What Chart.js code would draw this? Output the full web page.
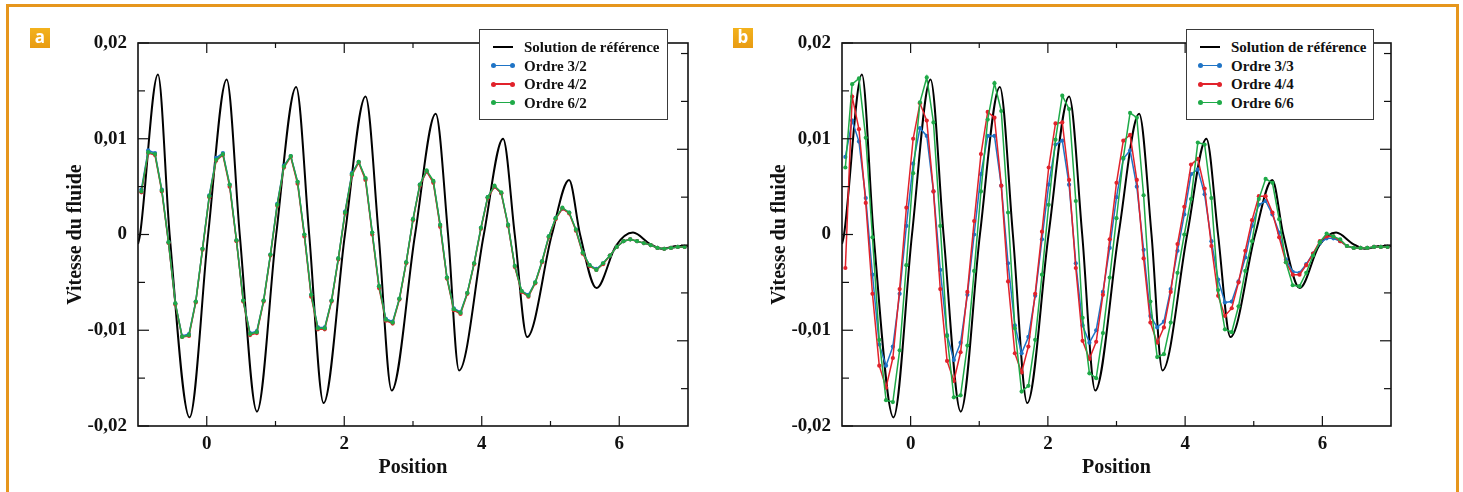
<!DOCTYPE html>
<html>
<head>
<meta charset="utf-8">
<script src="https://cdn.jsdelivr.net/npm/chart.js@4.4.1/dist/chart.umd.min.js"></script>
<style>
  html, body { margin: 0; padding: 0; background: #fff; }
  #page { position: relative; width: 1463px; height: 492px; overflow: hidden; background: #fff; }
  canvas { position: absolute; top: 0; }
  #frame { position: absolute; left: 6px; top: 4px; width: 1447px; height: 540px; border: 3px solid #e6961c; pointer-events: none; }
  .tag { position: absolute; top: 28px; width: 20px; height: 20px; background: linear-gradient(#f3b21c, #e89b12);
         color: #fff; font: bold 17px "Open Sans", sans-serif; text-align: center; line-height: 18px; }
  .legend { position: absolute; top: 29px; height: 91px; background: #fff; border: 1.5px solid #3a3a3a; box-sizing: border-box; }
  .row { position: absolute; left: 0; right: 0; height: 18px; }
  .row .ln { position: absolute; left: 13px; width: 20px; top: 8px; height: 2px; }
  .row .dot { position: absolute; top: 6.5px; width: 5px; height: 5px; border-radius: 50%; }
  .row .tx { position: absolute; left: 44px; top: 0; font: bold 15px "Liberation Serif", serif; line-height: 18px; color: #111; white-space: nowrap; }
</style>
</head>
<body>
<div id="page">
  <canvas id="ca" width="700" height="492" style="left:0"></canvas>
  <canvas id="cb" width="700" height="492" style="left:704px"></canvas>
  <div class="tag" style="left:30px">a</div>
  <div class="tag" style="left:733px">b</div>
  <div class="legend" id="lga" style="left:479px;width:189px"></div>
  <div class="legend" id="lgb" style="left:1186px;width:188px"></div>
  <div id="frame"></div>
</div>
<script>
// ---- axes ----
const yLabelVals = [0.02, 0.01, 0, -0.01, -0.02];
const yMinorVals = [0.015, 0.005, -0.005, -0.015];
const rightMajorVals = [0.0089, -0.0111];
const rightMinorVals = [0.0189, 0.0139, 0.0039, -0.0011, -0.0061, -0.0161];
const xLabelVals = [0, 2, 4, 6];
const xMinorVals = [1, 3, 5];
const topTickVals = [0, 1, 2, 3, 4, 5, 6];

// ---- noms des courbes ----
const refName = "Solution de référence";
const namesA = ["Ordre 3/2", "Ordre 4/2", "Ordre 6/2"];
const namesB = ["Ordre 3/3", "Ordre 4/4", "Ordre 6/6"];
const seriesColors = ["#1f74c6", "#e1222b", "#1faa48"];

// ---- solution de référence ----
const refX = [-1.00, -0.97, -0.71, -0.54, -0.25, 0.02, 0.29, 0.48, 0.73, 1.01, 1.30, 1.49, 1.70, 2.01, 2.31, 2.50,
  2.69, 3.03, 3.33, 3.51, 3.67, 4.03, 4.31, 4.48, 4.66, 5.02, 5.27, 5.43, 5.67, 5.95, 6.20, 6.45, 6.62, 6.85, 7.00];
const refY = [-0.0010, 0.0000, 0.0167, 0.0000, -0.0191, 0.0000, 0.0162, 0.0000, -0.0185, 0.0000, 0.0154, 0.0000,
  -0.0176, 0.0000, 0.0144, 0.0000, -0.0163, 0.0000, 0.0126, 0.0000, -0.0142, 0.0000, 0.0100, 0.0000, -0.0107,
  0.0000, 0.0057, 0.0000, -0.0056, -0.0012, 0.0002, -0.0010, -0.0015, -0.0012, -0.0012];

// ---- positions des cellules ----
const xCells = [-0.951, -0.852, -0.753, -0.654, -0.556, -0.457, -0.358, -0.259, -0.160, -0.062,
  0.037, 0.136, 0.235, 0.333, 0.432, 0.531, 0.630, 0.728, 0.827, 0.926,
  1.025, 1.123, 1.222, 1.321, 1.420, 1.519, 1.617, 1.716, 1.815, 1.914,
  2.012, 2.111, 2.210, 2.309, 2.407, 2.506, 2.605, 2.704, 2.802, 2.901,
  3.000, 3.099, 3.198, 3.296, 3.395, 3.494, 3.593, 3.691, 3.790, 3.889,
  3.988, 4.086, 4.185, 4.284, 4.383, 4.481, 4.580, 4.679, 4.778, 4.877,
  4.975, 5.074, 5.173, 5.272, 5.370, 5.469, 5.568, 5.667, 5.765, 5.864,
  5.963, 6.062, 6.160, 6.259, 6.358, 6.457, 6.556, 6.654, 6.753, 6.852, 6.951];

// ---- figure a ----
const a32 = [0.0047, 0.0088, 0.0085, 0.0047, -0.0008, -0.0072, -0.0106, -0.0104, -0.0070, -0.0015,
  0.0041, 0.0080, 0.0085, 0.0052, -0.0006, -0.0069, -0.0103, -0.0101, -0.0069, -0.0021,
  0.0032, 0.0072, 0.0082, 0.0055, 0.0000, -0.0063, -0.0097, -0.0097, -0.0069, -0.0025,
  0.0024, 0.0064, 0.0076, 0.0058, 0.0002, -0.0054, -0.0088, -0.0091, -0.0067, -0.0029,
  0.0016, 0.0052, 0.0066, 0.0055, 0.0010, -0.0045, -0.0077, -0.0081, -0.0061, -0.0030,
  0.0007, 0.0039, 0.0050, 0.0043, 0.0010, -0.0033, -0.0059, -0.0063, -0.0050, -0.0028,
  -0.0002, 0.0017, 0.0027, 0.0023, 0.0005, -0.0019, -0.0032, -0.0036, -0.0030, -0.0022,
  -0.0013, -0.0007, -0.0005, -0.0007, -0.0009, -0.0011, -0.0014, -0.0015, -0.0014, -0.0013, -0.0013];
const a42 = [0.0044, 0.0085, 0.0083, 0.0045, -0.0009, -0.0073, -0.0107, -0.0106, -0.0071, -0.0016,
  0.0039, 0.0077, 0.0083, 0.0050, -0.0007, -0.0070, -0.0105, -0.0103, -0.0070, -0.0022,
  0.0030, 0.0070, 0.0081, 0.0053, -0.0002, -0.0065, -0.0099, -0.0099, -0.0070, -0.0026,
  0.0022, 0.0062, 0.0075, 0.0057, 0.0000, -0.0056, -0.0090, -0.0093, -0.0068, -0.0030,
  0.0015, 0.0051, 0.0066, 0.0054, 0.0008, -0.0046, -0.0079, -0.0083, -0.0062, -0.0031,
  0.0006, 0.0038, 0.0050, 0.0043, 0.0009, -0.0034, -0.0060, -0.0065, -0.0051, -0.0029,
  -0.0003, 0.0016, 0.0027, 0.0022, 0.0004, -0.0020, -0.0033, -0.0037, -0.0031, -0.0022,
  -0.0013, -0.0007, -0.0005, -0.0007, -0.0009, -0.0011, -0.0014, -0.0015, -0.0014, -0.0013, -0.0013];
const a62 = [0.0045, 0.0086, 0.0084, 0.0046, -0.0008, -0.0072, -0.0107, -0.0105, -0.0070, -0.0015,
  0.0040, 0.0078, 0.0084, 0.0052, -0.0006, -0.0069, -0.0104, -0.0102, -0.0069, -0.0021,
  0.0031, 0.0071, 0.0082, 0.0055, 0.0000, -0.0063, -0.0098, -0.0098, -0.0069, -0.0025,
  0.0023, 0.0063, 0.0076, 0.0059, 0.0002, -0.0054, -0.0089, -0.0092, -0.0067, -0.0029,
  0.0016, 0.0052, 0.0067, 0.0056, 0.0010, -0.0045, -0.0078, -0.0082, -0.0061, -0.0030,
  0.0007, 0.0039, 0.0051, 0.0044, 0.0010, -0.0033, -0.0059, -0.0064, -0.0050, -0.0028,
  -0.0002, 0.0017, 0.0028, 0.0023, 0.0005, -0.0019, -0.0032, -0.0037, -0.0030, -0.0022,
  -0.0013, -0.0007, -0.0005, -0.0007, -0.0009, -0.0011, -0.0014, -0.0015, -0.0014, -0.0013, -0.0013];

// ---- figure b ----
const b33 = [0.0081, 0.0119, 0.0097, 0.0038, -0.0042, -0.0115, -0.0137, -0.0117, -0.0062, 0.0009,
  0.0074, 0.0111, 0.0103, 0.0045, -0.0037, -0.0105, -0.0131, -0.0113, -0.0063, 0.0000,
  0.0063, 0.0103, 0.0103, 0.0051, -0.0030, -0.0095, -0.0124, -0.0107, -0.0064, -0.0005,
  0.0052, 0.0094, 0.0098, 0.0052, -0.0030, -0.0095, -0.0113, -0.0100, -0.0060, -0.0014,
  0.0039, 0.0079, 0.0088, 0.0050, -0.0016, -0.0085, -0.0097, -0.0091, -0.0057, -0.0017,
  0.0021, 0.0063, 0.0068, 0.0042, -0.0007, -0.0047, -0.0071, -0.0070, -0.0049, -0.0024,
  0.0009, 0.0031, 0.0035, 0.0021, 0.0002, -0.0026, -0.0039, -0.0040, -0.0031, -0.0020,
  -0.0009, -0.0004, -0.0004, -0.0007, -0.0012, -0.0014, -0.0014, -0.0014, -0.0013, -0.0013, -0.0013];
const b44 = [-0.0035, 0.0144, 0.0110, 0.0033, -0.0062, -0.0137, -0.0160, -0.0129, -0.0057, 0.0028,
  0.0100, 0.0137, 0.0119, 0.0045, -0.0057, -0.0132, -0.0153, -0.0123, -0.0060, 0.0014,
  0.0084, 0.0128, 0.0122, 0.0051, -0.0049, -0.0124, -0.0144, -0.0117, -0.0062, 0.0003,
  0.0070, 0.0116, 0.0117, 0.0057, -0.0035, -0.0111, -0.0130, -0.0112, -0.0063, -0.0005,
  0.0054, 0.0098, 0.0104, 0.0057, -0.0025, -0.0092, -0.0113, -0.0097, -0.0060, -0.0010,
  0.0029, 0.0073, 0.0079, 0.0048, -0.0012, -0.0064, -0.0085, -0.0077, -0.0050, -0.0017,
  0.0015, 0.0040, 0.0040, 0.0023, -0.0003, -0.0029, -0.0042, -0.0042, -0.0032, -0.0020,
  -0.0007, -0.0002, -0.0002, -0.0007, -0.0012, -0.0014, -0.0014, -0.0014, -0.0013, -0.0013, -0.0013];
const b66 = [0.0070, 0.0157, 0.0163, 0.0101, -0.0003, -0.0110, -0.0173, -0.0175, -0.0121, -0.0032,
  0.0064, 0.0138, 0.0164, 0.0117, 0.0009, -0.0106, -0.0170, -0.0168, -0.0116, -0.0038,
  0.0045, 0.0120, 0.0158, 0.0129, 0.0023, -0.0098, -0.0164, -0.0158, -0.0110, -0.0042,
  0.0031, 0.0099, 0.0145, 0.0131, 0.0035, -0.0087, -0.0145, -0.0150, -0.0103, -0.0045,
  0.0017, 0.0080, 0.0127, 0.0122, 0.0041, -0.0070, -0.0128, -0.0125, -0.0092, -0.0040,
  0.0000, 0.0037, 0.0096, 0.0094, 0.0038, -0.0058, -0.0099, -0.0102, -0.0075, -0.0038,
  -0.0007, 0.0037, 0.0058, 0.0054, 0.0016, -0.0029, -0.0053, -0.0054, -0.0040, -0.0022,
  -0.0008, 0.0001, -0.0002, -0.0005, -0.0012, -0.0014, -0.0014, -0.0014, -0.0013, -0.0013, -0.0013];

// ---------------------------------------------------------------------------
const FONT = "'Liberation Serif', 'Times New Roman', serif";
const pts = (xs, ys) => xs.map((x, i) => ({ x, y: ys[i] }));
const fmt = (v) => (v === 0 ? "0" : v.toFixed(2).replace(".", ","));

// cadre + graduations intérieures
const frameTicks = {
  id: "frameTicks",
  afterDatasetsDraw(chart) {
    const { ctx, chartArea: a, scales: { x, y } } = chart;
    const seg = (x1, y1, x2, y2) => { ctx.beginPath(); ctx.moveTo(x1, y1); ctx.lineTo(x2, y2); ctx.stroke(); };
    ctx.save();
    ctx.strokeStyle = "#111";
    ctx.lineWidth = 1.6;
    ctx.strokeRect(a.left, a.top, a.right - a.left, a.bottom - a.top);
    ctx.lineWidth = 1.2;
    yLabelVals.forEach((v) => { const p = y.getPixelForValue(v); seg(a.left, p, a.left + 11, p); });
    yMinorVals.forEach((v) => { const p = y.getPixelForValue(v); seg(a.left, p, a.left + 7, p); });
    rightMajorVals.forEach((v) => { const p = y.getPixelForValue(v); seg(a.right, p, a.right - 11, p); });
    rightMinorVals.forEach((v) => { const p = y.getPixelForValue(v); seg(a.right, p, a.right - 7, p); });
    xLabelVals.forEach((v) => { const p = x.getPixelForValue(v); seg(p, a.bottom, p, a.bottom - 10); });
    xMinorVals.forEach((v) => { const p = x.getPixelForValue(v); seg(p, a.bottom, p, a.bottom - 5); });
    topTickVals.forEach((v) => { const p = x.getPixelForValue(v); seg(p, a.top, p, a.top + (v % 2 ? 5 : 10)); });
    ctx.restore();
  },
};

function makeChart(id, names, series, rightPad) {
  const datasets = [
    { label: refName, data: pts(refX, refY), borderColor: "#000", borderWidth: 2, pointRadius: 0,
      cubicInterpolationMode: "monotone", order: 4 },
  ];
  series.forEach((s, i) => datasets.push({
    label: names[i], data: pts(xCells, s), borderColor: seriesColors[i], backgroundColor: seriesColors[i],
    borderWidth: 1.5, pointRadius: 2.1, pointBorderWidth: 0, tension: 0, order: 3 - i,
  }));
  return new Chart(document.getElementById(id), {
    type: "line",
    data: { datasets },
    plugins: [frameTicks],
    options: {
      responsive: false, animation: false, devicePixelRatio: 1,
      layout: { padding: { top: 43, right: rightPad, left: 0, bottom: 0 } },
      plugins: { legend: { display: false }, tooltip: { enabled: false } },
      scales: {
        x: {
          type: "linear", min: -1, max: 7,
          afterBuildTicks: (s) => { s.ticks = xLabelVals.map((v) => ({ value: v })); },
          afterFit: (s) => { s.height = 66; },
          grid: { display: false, drawTicks: false }, border: { display: false },
          ticks: { color: "#111", padding: 7, maxRotation: 0, autoSkip: false, font: { family: FONT, size: 19, weight: "bold" } },
          title: { display: true, text: "Position", color: "#111", padding: { top: 0, bottom: 12 },
                   font: { family: FONT, size: 20, weight: "bold", lineHeight: 1.2 } },
        },
        y: {
          type: "linear", min: -0.02, max: 0.02,
          afterBuildTicks: (s) => { s.ticks = yLabelVals.map((v) => ({ value: v })); },
          afterFit: (s) => { s.width = 138; },
          grid: { display: false, drawTicks: false }, border: { display: false },
          ticks: { color: "#111", padding: 11, callback: (v) => fmt(v), font: { family: FONT, size: 19, weight: "bold" } },
          title: { display: true, text: "Vitesse du fluide", color: "#111", padding: { top: 64, bottom: 0 },
                   font: { family: FONT, size: 20, weight: "bold", lineHeight: 1.2 } },
        },
      },
    },
  });
}

function legend(id, names) {
  const rows = [[refName, "#000", false]].concat(names.map((n, i) => [n, seriesColors[i], true]));
  document.getElementById(id).innerHTML = rows.map(([n, c, dots], i) => {
    const top = 8 + i * 18.5;
    const d = dots ? `<i class="dot" style="left:11px;background:${c}"></i><i class="dot" style="left:30px;background:${c}"></i>` : "";
    return `<div class="row" style="top:${top}px"><i class="ln" style="background:${c};${dots ? "height:1.6px" : ""}"></i>${d}<span class="tx">${n}</span></div>`;
  }).join("");
}

makeChart("ca", namesA, [a32, a42, a62], 12);
makeChart("cb", namesB, [b33, b44, b66], 13);
legend("lga", namesA);
legend("lgb", namesB);
</script>
</body>
</html>
